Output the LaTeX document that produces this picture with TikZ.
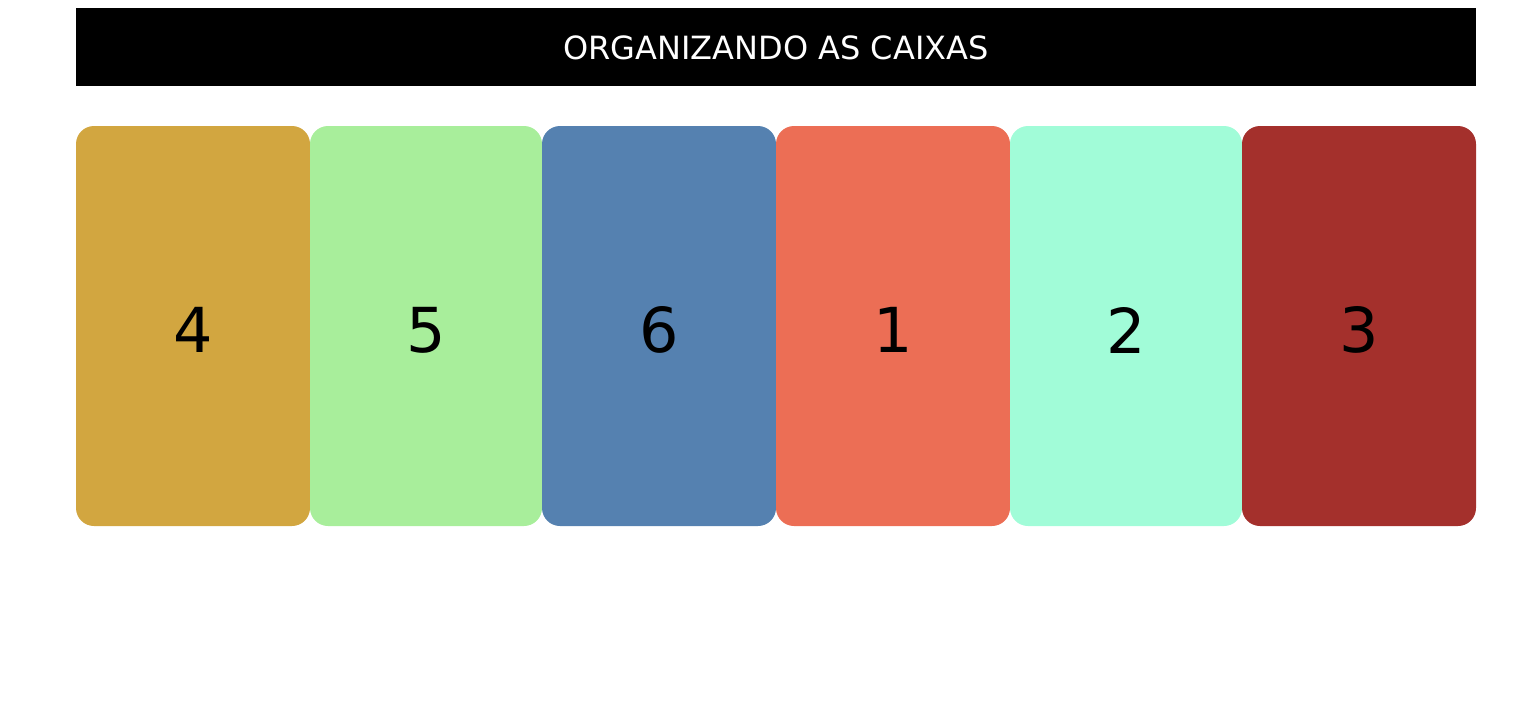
\documentclass[tikz,border=0pt]{standalone}
\usepackage{fontspec}
\setmainfont{DejaVu Sans}
\usepackage{xcolor}
\definecolor{caixaOuro}{HTML}{D2A640}
\definecolor{caixaVerde}{HTML}{A8EE9B}
\definecolor{caixaAzul}{HTML}{5581B0}
\definecolor{caixaCoral}{HTML}{EC6E55}
\definecolor{caixaMenta}{HTML}{A1FCD8}
\definecolor{caixaTijolo}{HTML}{A4302C}
\tikzset{
  numero/.style={font=\fontsize{62}{70}\selectfont,inner sep=0pt},
}

\begin{document}
\begin{tikzpicture}[x=1pt,y=-1pt]
  \useasboundingbox (0,0) rectangle (1538,720);
  % faixa do titulo
  \fill[black] (76,8) rectangle (1476,86);
  \node[white,font=\fontsize{32}{36}\selectfont,inner sep=0pt] (titulo) at (776,48)
    {ORGANIZANDO AS CAIXAS};
  % caixas
  \foreach \xa/\xb/\num/\cor in {76/310/4/caixaOuro, 310/542/5/caixaVerde,
      542/776/6/caixaAzul, 776/1010/1/caixaCoral, 1010/1242/2/caixaMenta,
      1242/1476/3/caixaTijolo}{
    \fill[\cor,rounded corners=18pt] (\xa,126) rectangle (\xb,526);
    \node[numero] (caixa\num) at ({(\xa+\xb)/2},330) {\num};
  }
\end{tikzpicture}
\end{document}
